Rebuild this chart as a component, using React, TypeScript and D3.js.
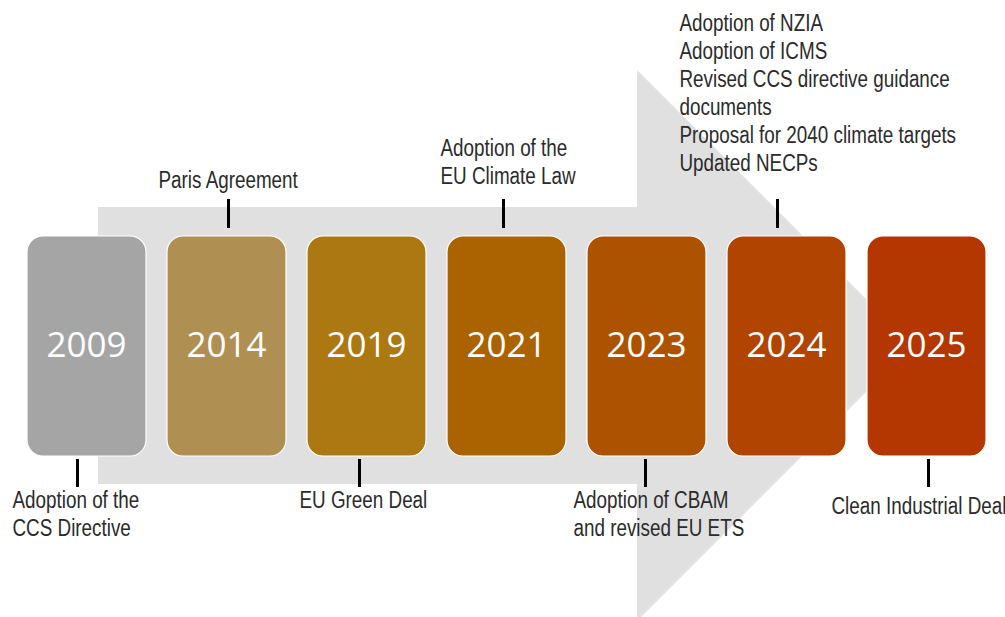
import { useEffect, useRef } from 'react';
import * as d3 from 'd3';

// timeline content
const years = ['2009', '2014', '2019', '2021', '2023', '2024', '2025'];
const boxColors = ['#a5a5a5', '#b08f52', '#ab7812', '#ab6200', '#ad5300', '#b04400', '#b43600'];
const sides = ['below', 'above', 'below', 'above', 'below', 'above', 'below'];
const labels = [
  ['Adoption of the', 'CCS Directive'],
  ['Paris Agreement'],
  ['EU Green Deal'],
  ['Adoption of the', 'EU Climate Law'],
  ['Adoption of CBAM', 'and revised EU ETS'],
  ['Adoption of NZIA', 'Adoption of ICMS', 'Revised CCS directive guidance', 'documents', 'Proposal for 2040 climate targets', 'Updated NECPs'],
  ['Clean Industrial Deal'],
];

// layout tweaks for label blocks (offset from box centre, first baseline)
const labelDx = [-74, -68, -67, -66, -73, -107, -95];
const labelY = [508, 188, 508, 156, 508, 31, 514];
const tickDx = [-9, 2, -7, -3, -1, -9, 2];

export default function App() {
  const svgRef = useRef<SVGSVGElement>(null);

  useEffect(() => {
    if (!svgRef.current) return;
    const W = 1005, H = 617;
    const svg = d3.select(svgRef.current);
    svg.selectAll('*').remove();
    svg.attr('width', W).attr('height', H);

    const x = d3.scaleBand<string>().domain(years).range([27, 986]).paddingInner(0.15).paddingOuter(0);
    const boxTop = 236, boxBottom = 456;

    // background arrow
    const bodyTop = 207, bodyBottom = 484, bodyLeft = 98, headX = 637, headTop = 70;
    const mid = (bodyTop + bodyBottom) / 2;
    const headHalf = mid - headTop;
    const arrow = d3.path();
    arrow.moveTo(bodyLeft, bodyTop);
    arrow.lineTo(headX, bodyTop);
    arrow.lineTo(headX, headTop);
    arrow.lineTo(headX + headHalf, mid);
    arrow.lineTo(headX, mid + headHalf);
    arrow.lineTo(headX, bodyBottom);
    arrow.lineTo(bodyLeft, bodyBottom);
    arrow.closePath();
    svg.append('path').attr('d', arrow.toString()).attr('fill', '#e0e0e0');

    // boxes
    const g = svg.append('g');
    g.selectAll('rect')
      .data(years)
      .enter()
      .append('rect')
      .attr('x', d => x(d) || 0)
      .attr('y', boxTop)
      .attr('width', x.bandwidth())
      .attr('height', boxBottom - boxTop)
      .attr('rx', 16)
      .attr('ry', 16)
      .attr('fill', (d, i) => boxColors[i])
      .attr('stroke', '#ffffff')
      .attr('stroke-width', 1.2);

    g.selectAll('text.year')
      .data(years)
      .enter()
      .append('text')
      .attr('class', 'year')
      .attr('x', d => (x(d) || 0) + x.bandwidth() / 2)
      .attr('y', 357)
      .attr('text-anchor', 'middle')
      .attr('fill', '#ffffff')
      .style('font-family', '"Open Sans", sans-serif')
      .style('font-size', '35px')
      .text(d => d);

    // ticks + labels
    years.forEach((yr, i) => {
      const cx = (x(yr) || 0) + x.bandwidth() / 2;
      const tx = cx + tickDx[i];
      const above = sides[i] === 'above';
      g.append('line')
        .attr('x1', tx).attr('x2', tx)
        .attr('y1', above ? 199 : 459)
        .attr('y2', above ? 228 : 487)
        .attr('stroke', '#000000')
        .attr('stroke-width', 3);

      // no condensed font installed, so squeeze Liberation Sans horizontally
      const t = g.append('text')
        .attr('transform', `translate(${cx + labelDx[i]},0) scale(0.82,1)`)
        .attr('fill', '#2b2b2b')
        .style('font-family', '"Liberation Sans", Arial, sans-serif')
        .style('font-size', '23px');
      labels[i].forEach((line, j) => {
        t.append('tspan')
          .attr('x', 0)
          .attr('y', labelY[i] + j * 28)
          .text(line);
      });
    });
  }, []);

  return (
    <div style={{ position: 'absolute', left: 0, top: 0, width: 1005, height: 617, background: '#ffffff' }}>
      <svg ref={svgRef}></svg>
    </div>
  );
}
